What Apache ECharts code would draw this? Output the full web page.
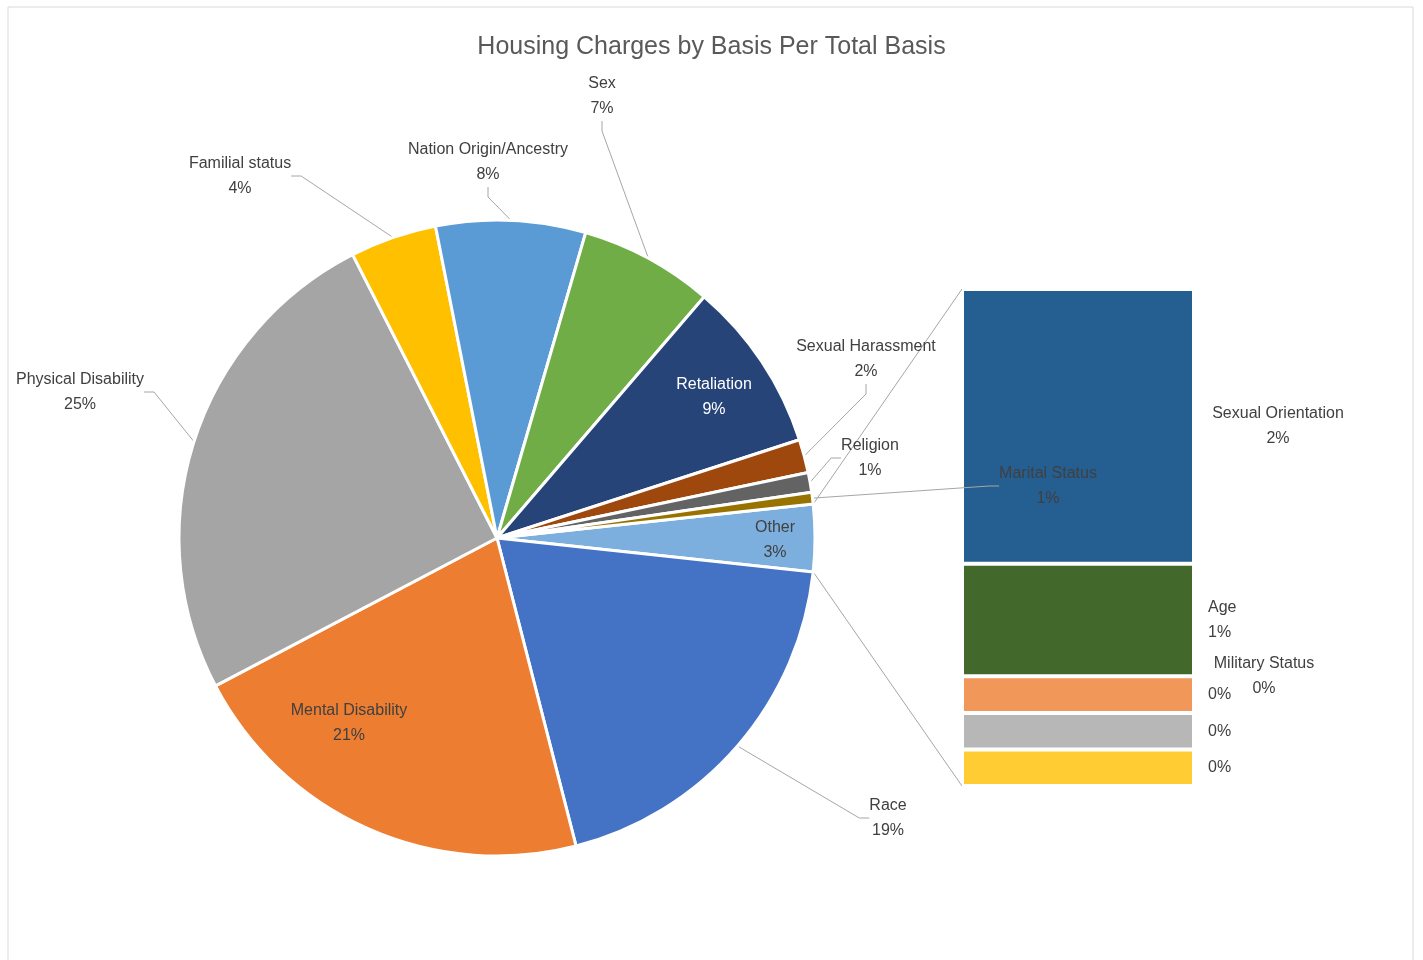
<!DOCTYPE html>
<html>
<head>
<meta charset="utf-8">
<script src="https://cdn.jsdelivr.net/npm/echarts@6/dist/echarts.min.js"></script>
<style>
html, body { margin: 0; padding: 0; background: #fff; }
#main { width: 1423px; height: 960px; }
</style>
</head>
<body>
<div id="main"></div>
<script>
// pie slices, clockwise starting from the split-off "Other" slice
var pieNames = ['Other', 'Race', 'Mental Disability', 'Physical Disability', 'Familial status',
    'Nation Origin/Ancestry', 'Sex', 'Retaliation', 'Sexual Harassment', 'Religion', 'Marital Status'];
var pieValues = [3.4, 19.3, 21.3, 25.2, 4.4, 7.6, 6.8, 8.7, 1.7, 1.0, 0.6];
var pieColors = ['#7cafdd', '#4472c4', '#ed7d31', '#a5a5a5', '#ffc000',
    '#5b9bd5', '#70ad47', '#264478', '#9e480e', '#636363', '#997300'];

// breakdown of "Other", top to bottom
var barNames = ['Sexual Orientation', 'Age', 'Military Status', '', '', ''];
var barValues = [1.88, 0.77, 0, 0.25, 0.25, 0.25];
var barColors = ['#255e91', '#43682b', '#f1975a', '#f1975a', '#b7b7b7', '#ffcd33'];

var font = '"Liberation Sans", Arial, sans-serif';
var textColor = '#404040';

// label centres for the pie labels
var pieLabelPos = [[775, 540], [888, 818], [349, 723], [80, 392], [240, 176], [488, 162],
    [602, 96], [714, 397], [866, 359], [870, 458], [1048, 486]];
var insideLabels = { 'Other': '#404040', 'Mental Disability': '#404040', 'Retaliation': '#ffffff' };
var barLabelDist = [84, 14, 69, 14, 14, 14];
var barLabelAlign = ['center', 'left', 'center', 'left', 'left', 'left'];

var pieCenter = [497, 538];
var pieRadius = 318;
var gridBox = { left: 962, top: 289, width: 232, height: 497 };

var total = pieValues.reduce(function (a, b) { return a + b; }, 0);
var otherSpan = pieValues[0] / total * 360;
var startAngle = otherSpan / 2;
var barTotal = barValues.reduce(function (a, b) { return a + b; }, 0);

var dom = document.getElementById('main');
var myChart = echarts.init(dom);

var pieData = pieNames.map(function (n, i) {
    var item = { name: n, value: pieValues[i], itemStyle: { color: pieColors[i] } };
    if (insideLabels[n]) {
        item.label = { position: 'inside', color: insideLabels[n] };
        item.labelLine = { show: false };
    }
    return item;
});

var barSeries = [];
for (var i = barNames.length - 1; i >= 0; i--) {
    (function (k) {
        barSeries.push({
            type: 'bar',
            stack: 'other',
            barWidth: '100%',
            z: 2,
            data: [barValues[k]],
            itemStyle: { color: barColors[k], borderColor: '#ffffff', borderWidth: 2 },
            label: {
                show: true,
                position: 'right',
                distance: barLabelDist[k],
                align: barLabelAlign[k],
                color: textColor,
                fontFamily: font,
                fontSize: 16,
                lineHeight: 25,
                formatter: function (p) {
                    var pct = Math.round(p.value) + '%';
                    return barNames[k] ? barNames[k] + '\n' + pct : pct;
                }
            }
        });
    })(i);
}

var option = {
    backgroundColor: '#ffffff',
    animation: false,
    title: {
        text: 'Housing Charges by Basis Per Total Basis',
        left: 'center',
        top: 30,
        textStyle: { color: '#595959', fontSize: 25, fontWeight: 'normal', fontFamily: font }
    },
    grid: { left: gridBox.left, top: gridBox.top, width: gridBox.width, height: gridBox.height },
    xAxis: { type: 'category', data: ['Other'], show: false },
    yAxis: { type: 'value', min: 0, max: barTotal, show: false },
    series: [{
        type: 'pie',
        z: 5,
        center: pieCenter,
        radius: pieRadius,
        startAngle: startAngle,
        clockwise: true,
        avoidLabelOverlap: false,
        itemStyle: { borderColor: '#ffffff', borderWidth: 3 },
        label: {
            show: true,
            color: textColor,
            fontFamily: font,
            fontSize: 16,
            lineHeight: 25,
            formatter: function (p) { return p.name + '\n' + Math.round(p.percent) + '%'; }
        },
        labelLine: { show: true, length: 10, length2: 10, lineStyle: { color: '#a6a6a6', width: 1 } },
        labelLayout: function (p) {
            var pos = pieLabelPos[p.dataIndex];
            return { x: pos[0], y: pos[1], align: 'center', verticalAlign: 'middle' };
        },
        data: pieData
    }].concat(barSeries)
};

if (option && typeof option === 'object') {
    myChart.setOption(option, true);
}

// connector lines from the split slice to the breakdown bar, plus the chart frame
var a0 = startAngle * Math.PI / 180;
var a1 = (startAngle - otherSpan) * Math.PI / 180;
var pTop = [pieCenter[0] + pieRadius * Math.cos(a0), pieCenter[1] - pieRadius * Math.sin(a0)];
var pBot = [pieCenter[0] + pieRadius * Math.cos(a1), pieCenter[1] - pieRadius * Math.sin(a1)];
var barTop = myChart.convertToPixel({ gridIndex: 0 }, [0, barTotal]);
var barBot = myChart.convertToPixel({ gridIndex: 0 }, [0, 0]);
myChart.setOption({
    graphic: [
        { type: 'rect', shape: { x: 8, y: 7, width: 1405, height: 960 }, style: { fill: 'none', stroke: '#d9d9d9', lineWidth: 1 }, silent: true },
        { type: 'line', shape: { x1: pTop[0], y1: pTop[1], x2: gridBox.left, y2: barTop[1] }, style: { stroke: '#a6a6a6', lineWidth: 1 }, z: 1 },
        { type: 'line', shape: { x1: pBot[0], y1: pBot[1], x2: gridBox.left, y2: barBot[1] }, style: { stroke: '#a6a6a6', lineWidth: 1 }, z: 1 }
    ]
});
</script>
</body>
</html>
